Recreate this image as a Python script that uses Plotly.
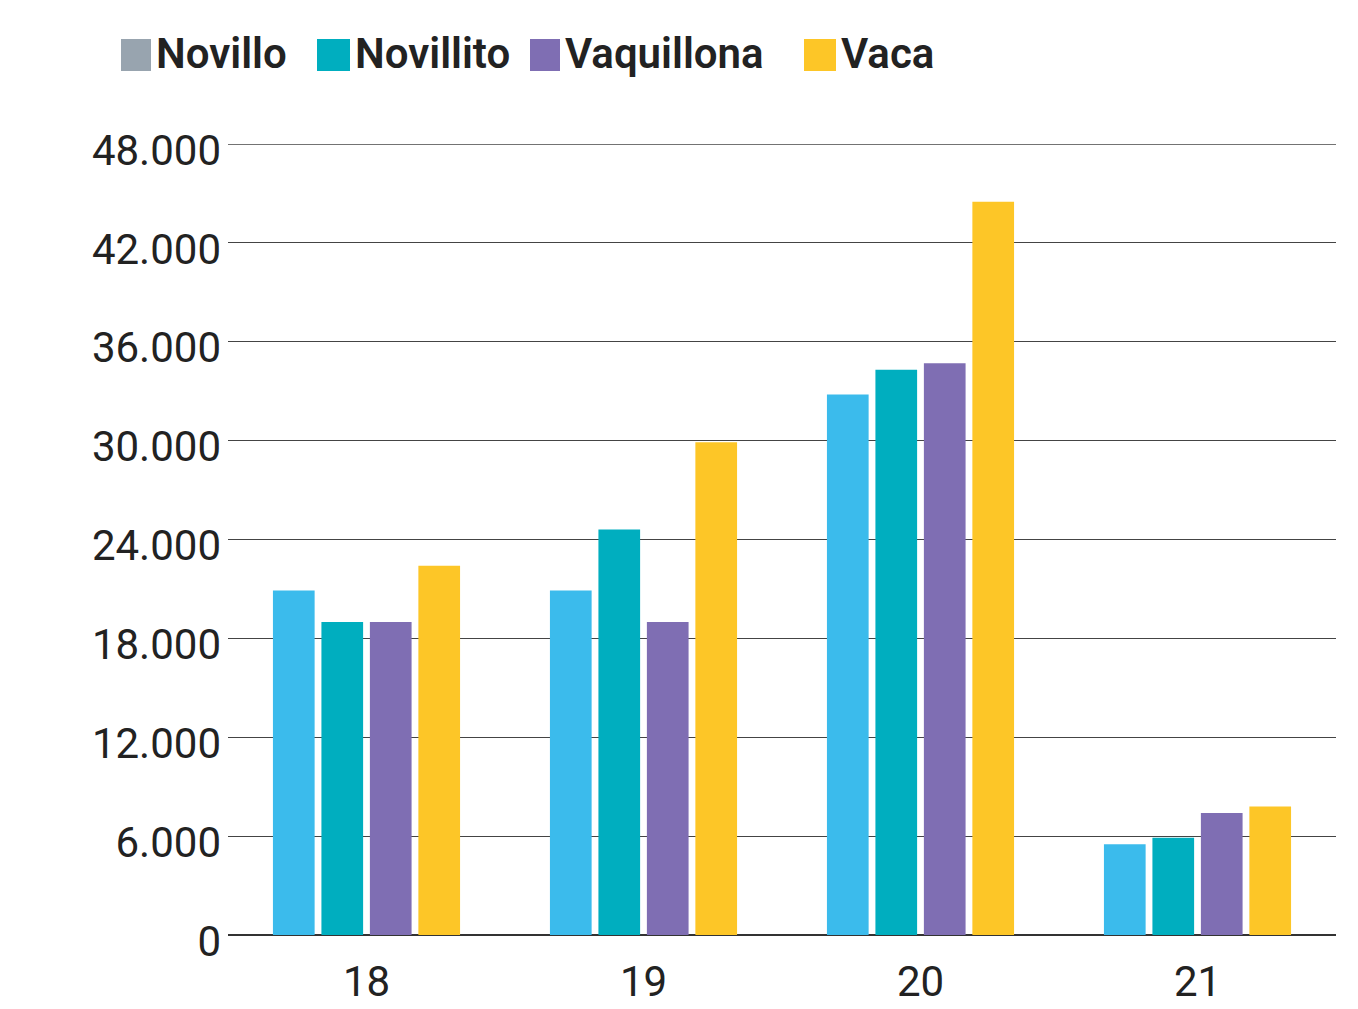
import plotly.graph_objects as go

years = ["18", "19", "20", "21"]
novillo = [20900, 20900, 32800, 5500]
novillito = [19000, 24600, 34300, 5900]
vaquillona = [19000, 19000, 34700, 7400]
vaca = [22400, 29900, 44500, 7800]

series = [
    ("Novillo", novillo, "#3BBBEC", "#98A4AF"),
    ("Novillito", novillito, "#00AEBF", "#00AEBF"),
    ("Vaquillona", vaquillona, "#7F6EB3", "#7F6EB3"),
    ("Vaca", vaca, "#FDC627", "#FDC627"),
]

OFF = 8  # page body margin
W, H = 1358, 1009
L, R, T, B = 220, 30, 136, 82
PW, PH = W - L - R, H - T - B

def px_x(x):
    return (x - OFF - L) / PW

def px_y(y):
    return (H - B - (y - OFF)) / PH

fig = go.Figure()
for name, vals, col, _ in series:
    fig.add_trace(go.Bar(x=years, y=vals, name=name, marker_color=col,
                         marker_line_width=0, showlegend=False))

# custom legend
legend_pos = [(121, 151), (317, 350), (530, 560), (804, 836)]
shapes = [dict(type="line", xref="paper", yref="y", x0=0, x1=1, y0=48000, y1=48000,
               line=dict(color="#444444", width=1.4), layer="below")]
annotations = []
for (name, _, _, lcol), (x0, x1) in zip(series, legend_pos):
    shapes.append(dict(type="rect", xref="paper", yref="paper",
                       x0=px_x(x0), x1=px_x(x1), y0=px_y(71), y1=px_y(39),
                       fillcolor=lcol, line_width=0))
    annotations.append(dict(xref="paper", yref="paper", x=px_x(x1 + 3), y=px_y(54),
                            xanchor="left", yanchor="middle", showarrow=False,
                            text=name,
                            font=dict(family="Roboto", size=42, color="#222222", weight=600)))

fig.update_layout(
    width=W, height=H,
    margin=dict(l=L, r=R, t=T, b=B),
    paper_bgcolor="white", plot_bgcolor="white",
    barmode="group", bargap=0.30, bargroupgap=0.14,
    separators=",.",
    shapes=shapes, annotations=annotations,
    font=dict(family="Roboto", color="#222222"),
)
fig.update_yaxes(range=[0, 48000], dtick=6000, tickformat=",d",
                 showgrid=True, gridcolor="#444444", gridwidth=1.2,
                 zeroline=True, zerolinecolor="#333333", zerolinewidth=1.5,
                 tickfont=dict(size=42, color="#222222"), ticks="",
                 ticklabelstandoff=6, ticklabelshift=6)
fig.update_xaxes(showgrid=False, showline=False, ticks="", ticklabelstandoff=18,
                 tickfont=dict(size=42, color="#222222"))

fig.write_html("out.html")
